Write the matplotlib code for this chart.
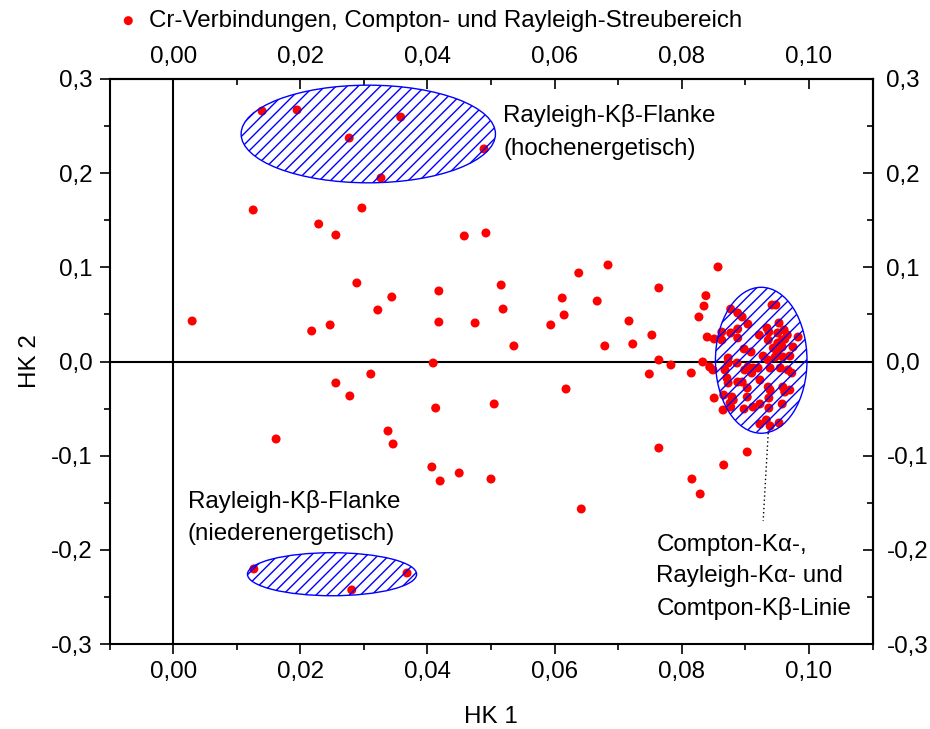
import matplotlib
matplotlib.use("Agg")
import matplotlib.pyplot as plt
from matplotlib.patches import Ellipse
from matplotlib.ticker import MultipleLocator, FuncFormatter

plt.rcParams['font.family'] = ['Liberation Sans', 'DejaVu Sans']
plt.rcParams['hatch.linewidth'] = 1.0

# ---- data (HK 1, HK 2 scores) ----
hk1_outer = [0.0030, 0.0126, 0.0140, 0.0195, 0.0277, 0.0358, 0.0489, 0.0327, 0.0229, 0.0256,
             0.0297, 0.0458, 0.0492, 0.0289, 0.0218, 0.0247, 0.0322, 0.0344, 0.0418, 0.0418,
             0.0475, 0.0516, 0.0519, 0.0536, 0.0594, 0.0612, 0.0615, 0.0638, 0.0684, 0.0667,
             0.0717, 0.0723, 0.0679, 0.0753, 0.0764, 0.0764, 0.0783, 0.0749, 0.0311, 0.0256,
             0.0278, 0.0409, 0.0413, 0.0505, 0.0162, 0.0338, 0.0346, 0.0407, 0.0420, 0.0450,
             0.0500, 0.0618, 0.0764, 0.0642, 0.0816, 0.0829, 0.0866, 0.0903, 0.0857, 0.0127,
             0.0281, 0.0368, 0.0815]
hk2_outer = [0.0430, 0.1609, 0.2660, 0.2671, 0.2373, 0.2596, 0.2257, 0.1949, 0.1460, 0.1343,
             0.1630, 0.1333, 0.1365, 0.0834, 0.0324, 0.0388, 0.0547, 0.0685, 0.0749, 0.0419,
             0.0409, 0.0812, 0.0557, 0.0165, 0.0388, 0.0674, 0.0494, 0.0940, 0.1025, 0.0642,
             0.0430, 0.0186, 0.0165, 0.0281, 0.0781, 0.0016, -0.0037, -0.0133, -0.0133, -0.0228,
             -0.0366, -0.0016, -0.0494, -0.0451, -0.0823, -0.0738, -0.0876, -0.1120, -0.1269, -0.1184,
             -0.1248, -0.0292, -0.0919, -0.1566, -0.1248, -0.1407, -0.1099, -0.0961, 0.1004, -0.2203,
             -0.2426, -0.2246, -0.0122]

hk1_cluster = [0.0838, 0.0835, 0.0827, 0.0877, 0.0888, 0.0895, 0.0904, 0.0942, 0.0948, 0.0953,
               0.0863, 0.0877, 0.0888, 0.0888, 0.0840, 0.0851, 0.0863, 0.0922, 0.0934, 0.0937,
               0.0936, 0.0951, 0.0961, 0.0966, 0.0958, 0.0962, 0.0951, 0.0983, 0.0975, 0.0898,
               0.0909, 0.0928, 0.0944, 0.0950, 0.0958, 0.0947, 0.0959, 0.0970, 0.0873, 0.0936,
               0.0833, 0.0844, 0.0849, 0.0868, 0.0873, 0.0887, 0.0904, 0.0899, 0.0912, 0.0910,
               0.0920, 0.0939, 0.0955, 0.0967, 0.0973, 0.0871, 0.0873, 0.0888, 0.0895, 0.0923,
               0.0903, 0.0936, 0.0939, 0.0959, 0.0970, 0.0962, 0.0851, 0.0866, 0.0879, 0.0881,
               0.0876, 0.0903, 0.0937, 0.0865, 0.0877, 0.0898, 0.0912, 0.0923, 0.0937, 0.0958,
               0.0923, 0.0933, 0.0939, 0.0953]
hk2_cluster = [0.0699, 0.0589, 0.0473, 0.0557, 0.0515, 0.0473, 0.0398, 0.0600, 0.0600, 0.0409,
               0.0313, 0.0303, 0.0345, 0.0250, 0.0260, 0.0239, 0.0228, 0.0281, 0.0356, 0.0313,
               0.0228, 0.0303, 0.0335, 0.0281, 0.0228, 0.0236, 0.0196, 0.0260, 0.0154, 0.0133,
               0.0101, 0.0058, 0.0143, 0.0101, 0.0154, 0.0048, 0.0048, 0.0058, 0.0037, 0.0016,
               -0.0005, -0.0058, -0.0090, -0.0090, -0.0016, -0.0016, -0.0058, -0.0090, -0.0069, -0.0122,
               -0.0069, -0.0069, -0.0069, -0.0090, -0.0122, -0.0175, -0.0228, -0.0218, -0.0218, -0.0196,
               -0.0281, -0.0271, -0.0303, -0.0271, -0.0303, -0.0324, -0.0388, -0.0356, -0.0377, -0.0409,
               -0.0441, -0.0377, -0.0388, -0.0515, -0.0483, -0.0504, -0.0483, -0.0451, -0.0494, -0.0451,
               -0.0664, -0.0621, -0.0685, -0.0653]

hk1 = hk1_outer + hk1_cluster
hk2 = hk2_outer + hk2_cluster

# regions (center x, center y, width, height)
region_centers = [(0.0307, 0.2416), (0.0250, -0.2259), (0.0925, 0.0013)]
region_sizes = [(0.0400, 0.1037), (0.0266, 0.0457), (0.0144, 0.155)]

legend_label = "Cr-Verbindungen, Compton- und Rayleigh-Streubereich"
label_high = "Rayleigh-K\u03b2-Flanke\n(hochenergetisch)"
label_low = "Rayleigh-K\u03b2-Flanke\n(niederenergetisch)"
label_cluster = "Compton-K\u03b1-,\nRayleigh-K\u03b1- und\nComtpon-K\u03b2-Linie"

FS = 17.4

fig = plt.figure(figsize=(9.30, 7.29), dpi=100)
ax = fig.add_axes([109.5/930, 1-644/729, 763/930, 565/729])
ax.set_xlim(-0.01, 0.11)
ax.set_ylim(-0.3, 0.3)

ax.axhline(0, color='black', lw=1.5, zorder=1)
ax.axvline(0, color='black', lw=1.5, zorder=1)

sc = ax.scatter(hk1, hk2, s=42, color='#ff0000', edgecolors='none', zorder=3, label=legend_label)

for (cx, cy), (w, h) in zip(region_centers, region_sizes):
    e = Ellipse((cx, cy), w, h, facecolor='none', edgecolor='#0000ff', lw=1.0, hatch='///', zorder=4)
    ax.add_patch(e)

ax.plot([0.0936, 0.0928], [-0.0759, -0.1694], color='black', lw=1.0, ls=(0, (1, 2)), zorder=2)

ax.text(0.0519, 0.2730, label_high, fontsize=FS, va='top', ha='left', linespacing=1.6)
ax.text(0.0023, -0.1365, label_low, fontsize=FS, va='top', ha='left', linespacing=1.6)
ax.text(0.0760, -0.1830, label_cluster, fontsize=FS, va='top', ha='left', linespacing=1.55)

fmt = FuncFormatter(lambda v, p: ("%.2f" % v).replace('.', ',').replace('-0,00', '0,00'))
fmty = FuncFormatter(lambda v, p: ("%.1f" % v).replace('.', ',').replace('-0,0', '0,0'))

ax.xaxis.set_major_locator(MultipleLocator(0.02))
ax.xaxis.set_minor_locator(MultipleLocator(0.01))
ax.yaxis.set_major_locator(MultipleLocator(0.1))
ax.yaxis.set_minor_locator(MultipleLocator(0.05))
ax.xaxis.set_major_formatter(fmt)
ax.yaxis.set_major_formatter(fmty)
ax.tick_params(which='both', direction='out', width=1.2, labelsize=FS, top=False, right=False)
ax.tick_params(which='major', length=7, pad=5)
ax.tick_params(which='minor', length=4)
for s in ax.spines.values():
    s.set_linewidth(1.5)

secx = ax.secondary_xaxis('top')
secx.xaxis.set_major_locator(MultipleLocator(0.02))
secx.xaxis.set_minor_locator(MultipleLocator(0.01))
secx.xaxis.set_major_formatter(fmt)
secx.tick_params(which='both', direction='in', width=1.2, labelsize=FS)
secx.tick_params(which='major', length=7, pad=8)
secx.tick_params(which='minor', length=4)
secx.spines['top'].set_linewidth(1.5)

secy = ax.secondary_yaxis('right')
secy.yaxis.set_major_locator(MultipleLocator(0.1))
secy.yaxis.set_minor_locator(MultipleLocator(0.05))
secy.yaxis.set_major_formatter(fmty)
secy.tick_params(which='both', direction='in', width=1.2, labelsize=FS)
secy.tick_params(which='major', length=7, pad=10)
secy.tick_params(which='minor', length=4)
secy.spines['right'].set_linewidth(1.5)

for axis in (ax.xaxis, ax.yaxis, secx.xaxis, secy.yaxis):
    axis.get_offset_text().set_visible(False)
secx.xaxis.label.set_visible(False)
secy.yaxis.label.set_visible(False)

ax.set_xlabel("HK 1", fontsize=FS, labelpad=17)
ax.set_ylabel("HK 2", fontsize=FS, labelpad=7)

ax.legend(loc='center left', bbox_to_anchor=(115/930, 1-21/729), bbox_transform=fig.transFigure,
          frameon=False, fontsize=FS, handletextpad=0.3, borderpad=0, borderaxespad=0,
          markerscale=1.0, handlelength=1.1)

fig.savefig("out.png", dpi=100)
